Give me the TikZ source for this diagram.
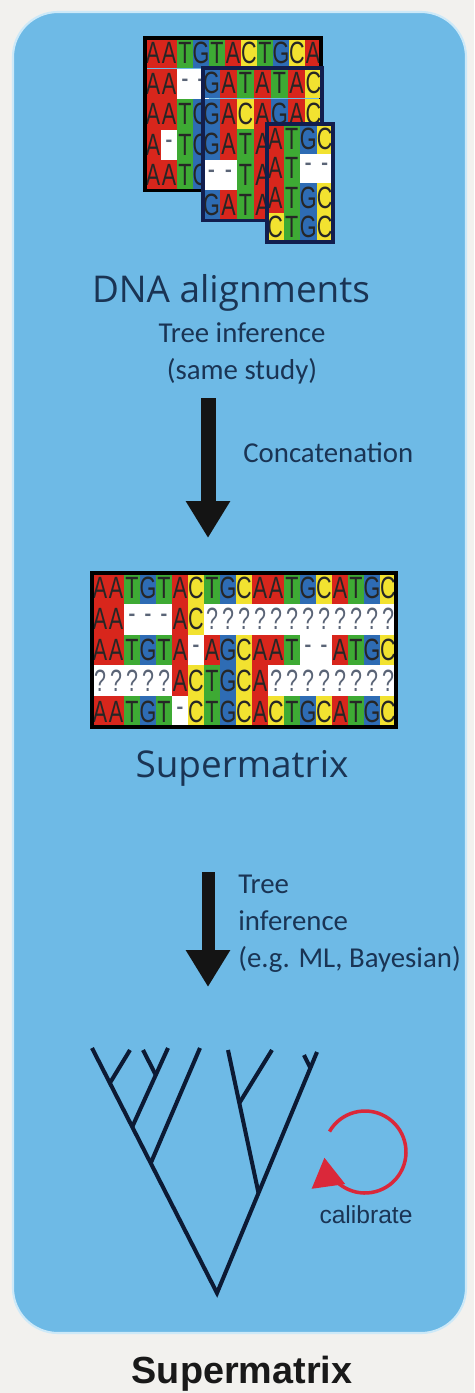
\documentclass[tikz,border=0pt]{standalone}
\usepackage{fontspec}
\setmainfont{Open Sans}
\newfontfamily\labelfont{Carlito}
\newfontfamily\titlefont{Liberation Sans}
\newfontfamily\seqfont[FakeStretch=0.7]{Liberation Sans}
\usetikzlibrary{arrows.meta, fit, calc}

\definecolor{pagebg}{RGB}{242,241,238}
\definecolor{boxblue}{RGB}{110,186,230}
\definecolor{boxrim}{RGB}{205,233,248}
\definecolor{ink}{RGB}{26,52,84}
\definecolor{treeink}{RGB}{12,26,52}
\definecolor{calred}{RGB}{218,40,58}
\definecolor{ntA}{RGB}{216,38,28}
\definecolor{ntT}{RGB}{62,170,52}
\definecolor{ntG}{RGB}{46,108,180}
\definecolor{ntC}{RGB}{242,226,48}
\definecolor{gapgrey}{RGB}{90,100,118}
\definecolor{navyframe}{RGB}{18,30,78}

\tikzset{
  cell/.style={minimum width=0.32cm, minimum height=0.61cm, inner sep=0pt, outer sep=0pt,
    font=\seqfont\fontsize{17.5}{17.5}\selectfont, text=black!85},
  nuc A/.style={fill=ntA},
  nuc T/.style={fill=ntT},
  nuc G/.style={fill=ntG},
  nuc C/.style={fill=ntC},
  nuc -/.style={fill=white, text=gapgrey},
  nuc ?/.style={fill=white, text=gapgrey},
  frame/.style={draw=black, line width=1.8pt, inner sep=0pt, outer sep=0pt},
  biglabel/.style={font=\fontsize{21}{24}\selectfont, text=ink, inner sep=0pt},
  steplabel/.style={font=\labelfont\fontsize{16.4}{21}\selectfont, text=ink, inner sep=0pt},
  bigarrow/.style={draw=black!92, line width=0.3cm, -{Triangle[length=0.74cm, width=0.84cm]}},
  branch/.style={draw=treeink, line width=2.3pt},
  calarrow/.style={draw=calred, line width=2pt, -{Triangle[length=0.58cm, width=0.66cm, fill=calred]}}
}

% one row of an alignment: options, name, left x, centre y, column step, bases
\newcommand\seqrow[6][]{%
  \foreach \nuc [count=\i] in {#6}
    \node[cell, minimum width=#5*0.02cm, nuc \nuc, #1] (#2-\i) at ({#3+(\i-0.5)*#5}, #4) {\nuc};}

\begin{document}
\begin{tikzpicture}[x=0.02cm, y=-0.02cm]
  \useasboundingbox (0,0) rectangle (474,1393);
  \fill[pagebg] (0,0) rectangle (474,1393);
  \filldraw[fill=boxblue, draw=boxrim, line width=1.2pt, rounded corners=0.9cm] (13,12) rectangle (466,1333);

  % separate gene alignments, stacked
  \seqrow{m1r1}{145}{53.25}{16}{A,A,T,G,T,A,C,T,G,C,A}
  \seqrow{m1r2}{145}{83.75}{16}{A,A,-,-}
  \seqrow{m1r3}{145}{114.25}{16}{A,A,T,G}
  \seqrow{m1r4}{145}{144.75}{16}{A,-,T,G}
  \seqrow{m1r5}{145}{175.25}{16}{A,A,T,G}
  \node[frame, fit=(m1r1-1)(m1r1-11)(m1r5-1)] (m1) {};

  \seqrow{m2r1}{203}{83.25}{17}{G,A,T,A,T,A,C}
  \seqrow{m2r2}{203}{113.75}{17}{G,A,C,A,G,A,C}
  \seqrow{m2r3}{203}{144.25}{17}{G,A,T,A}
  \seqrow{m2r4}{203}{174.75}{17}{-,-,T,A}
  \seqrow{m2r5}{203}{205.25}{17}{G,A,T,A}
  \node[frame, draw=navyframe, fit=(m2r1-1)(m2r1-7)(m2r5-1)] (m2) {};

  \seqrow[minimum height=0.59cm]{m3r1}{267}{138.75}{16.5}{A,T,G,C}
  \seqrow[minimum height=0.59cm]{m3r2}{267}{168.25}{16.5}{A,T,-,-}
  \seqrow[minimum height=0.59cm]{m3r3}{267}{197.75}{16.5}{A,T,G,C}
  \seqrow[minimum height=0.59cm]{m3r4}{267}{227.25}{16.5}{C,T,G,C}
  \node[frame, draw=navyframe, fit=(m3r1-1)(m3r4-4)] (m3) {};

  \node[biglabel, anchor=base] (dna) at (231,302) {DNA alignments};
  \node[steplabel, align=center, anchor=north] (samestudy) at (242,322) {Tree inference\\(same study)};

  \coordinate (cat-top) at (208,398);
  \coordinate (cat-tip) at (208,538);
  \draw[bigarrow] (cat-top) -- (cat-tip);
  \node[steplabel, anchor=base west] (concat) at (243,462) {Concatenation};

  % concatenated supermatrix
  \seqrow[minimum height=0.616cm]{m4r1}{92}{588.4}{16}{A,A,T,G,T,A,C,T,G,C,A,A,T,G,C,A,T,G,C}
  \seqrow[minimum height=0.616cm]{m4r2}{92}{619.2}{16}{A,A,-,-,-,A,C,?,?,?,?,?,?,?,?,?,?,?,?}
  \seqrow[minimum height=0.616cm]{m4r3}{92}{650}{16}{A,A,T,G,T,A,-,A,G,C,A,A,T,-,-,A,T,G,C}
  \seqrow[minimum height=0.616cm]{m4r4}{92}{680.8}{16}{?,?,?,?,?,A,C,T,G,C,A,?,?,?,?,?,?,?,?}
  \seqrow[minimum height=0.616cm]{m4r5}{92}{711.6}{16}{A,A,T,G,T,-,C,T,G,C,A,C,T,G,C,A,T,G,C}
  \node[frame, fit=(m4r1-1)(m4r5-19)] (m4) {};
  \node[biglabel, anchor=base] (smx) at (242,777) {Supermatrix};

  \coordinate (inf-top) at (208,872);
  \coordinate (inf-tip) at (208,987);
  \draw[bigarrow, line width=0.26cm] (inf-top) -- (inf-tip);
  \node[steplabel, align=left, anchor=north west] (mlbayes) at (238,875) {Tree\\inference\\(e.g. ML, Bayesian)};

  % tree
  \coordinate (root) at (217,1293);
  \coordinate (l1) at (92,1048);
  \coordinate (l2) at (130,1050);
  \coordinate (l3) at (143,1050);
  \coordinate (l4) at (168,1048);
  \coordinate (l5) at (200,1048);
  \coordinate (l6) at (228,1050);
  \coordinate (l7) at (272,1050);
  \coordinate (l8) at (304,1055);
  \coordinate (l9) at (317,1052);
  \coordinate (ca) at ($(root)!0.53!(l1)$);
  \coordinate (cb) at ($(root)!0.678!(l1)$);
  \coordinate (cc) at ($(root)!0.857!(l1)$);
  \coordinate (cb2) at ($(cb)!0.658!(l4)$);
  \coordinate (cd) at ($(root)!0.415!(l9)$);
  \coordinate (ce) at ($(cd)!0.629!(l6)$);
  \coordinate (cf) at ($(root)!0.934!(l9)$);
  \draw[branch] (l1) -- (root) -- (l9);
  \draw[branch] (cc) -- (l2);
  \draw[branch] (cb) -- (l4);
  \draw[branch] (cb2) -- (l3);
  \draw[branch] (ca) -- (l5);
  \draw[branch] (cd) -- (l6);
  \draw[branch] (ce) -- (l7);
  \draw[branch] (cf) -- (l8);

  \coordinate (loop) at (365,1152);
  \draw[calarrow] (loop) ++(-150:41) arc[start angle=-150, end angle=172, radius=41];
  \node[font=\titlefont\fontsize{14}{16}\selectfont, text=ink, inner sep=0pt] (calib) at (366,1215) {calibrate};

  \node[font=\titlefont\bfseries\fontsize{21.5}{24}\selectfont, text=black!90, inner sep=0pt, anchor=base] (title) at (242,1383) {Supermatrix};
\end{tikzpicture}
\end{document}
